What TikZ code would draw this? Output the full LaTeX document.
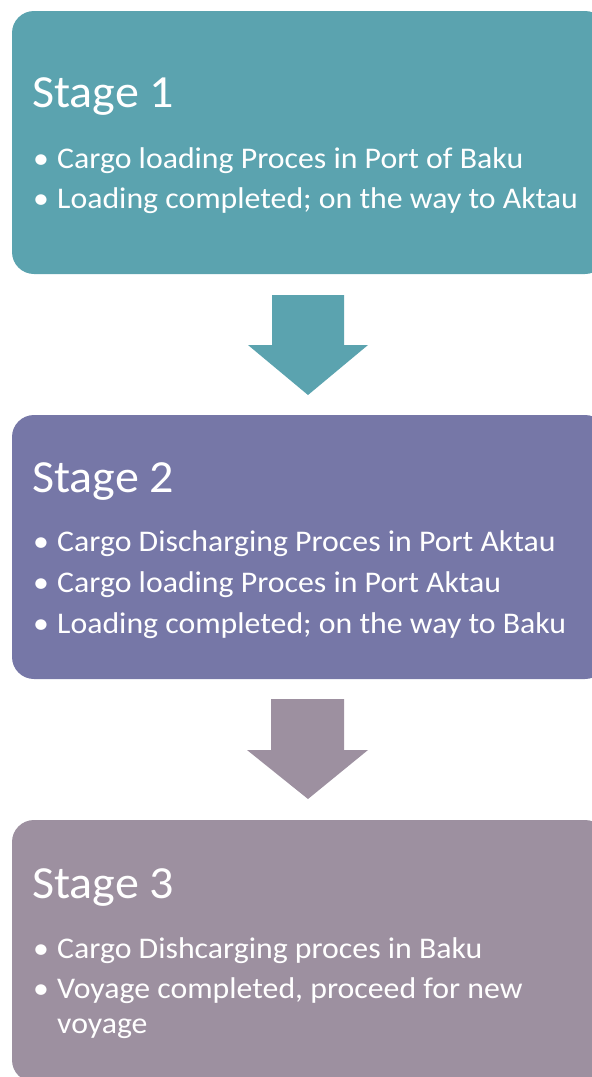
\documentclass[tikz,border=0pt]{standalone}
\usepackage{fontspec}
\setmainfont{Carlito}
\newfontfamily\itemfont[FakeStretch=1.06]{Carlito}
\newfontfamily\titlefont[FakeStretch=1.045]{Carlito}
\definecolor{cteal}{RGB}{91,163,175}
\definecolor{cpurple}{RGB}{118,119,167}
\definecolor{cmauve}{RGB}{157,144,160}
\begin{document}
\begin{tikzpicture}[x=1pt,y=-1pt,
  box/.style={rounded corners=22pt},
  title/.style={anchor=base west,inner sep=0pt,text=white,font=\titlefont\fontsize{46}{55}\selectfont},
  item/.style={anchor=base west,inner sep=0pt,text=white,font=\itemfont\fontsize{30}{36}\selectfont},
  bul/.style={anchor=base west,inner sep=0pt,text=white,font=\itemfont\fontsize{30}{36}\selectfont}]
\useasboundingbox (0,0) rectangle (592,1077);
% boxes
\fill[cteal,box] (12,11) rectangle (607,274);
\fill[cpurple,box] (12,415) rectangle (607,679);
\fill[cmauve,box] (12,820) rectangle (607,1082);
% arrows
\fill[cteal] (272,295) -- (344,295) -- (344,345) -- (368,345) -- (308,395) -- (248,345) -- (272,345) -- cycle;
\fill[cmauve] (271,699) -- (344,699) -- (344,750) -- (368,750) -- (308,799) -- (247,750) -- (271,750) -- cycle;
% stage 1
\node[title] (s1) at (32,107) {Stage 1};
\node[bul] (s1b1) at (33,168) {•};
\node[item] (s1t1) at (57,168) {Cargo loading Proces in Port of Baku};
\node[bul] (s1b2) at (33,208) {•};
\node[item] (s1t2) at (57,208) {Loading completed; on the way to Aktau};
% stage 2
\node[title] (s2) at (32,492) {Stage 2};
\node[bul] (s2b1) at (33,551) {•};
\node[item] (s2t1) at (57,551) {Cargo Discharging Proces in Port Aktau};
\node[bul] (s2b2) at (33,592) {•};
\node[item] (s2t2) at (57,592) {Cargo loading Proces in Port Aktau};
\node[bul] (s2b3) at (33,633) {•};
\node[item] (s2t3) at (57,633) {Loading completed; on the way to Baku};
% stage 3
\node[title] (s3) at (32,898) {Stage 3};
\node[bul] (s3b1) at (33,958) {•};
\node[item] (s3t1) at (57,958) {Cargo Dishcarging proces in Baku};
\node[bul] (s3b2) at (33,998) {•};
\node[item] (s3t2) at (57,998) {Voyage completed, proceed for new};
\node[item] (s3t3) at (57,1033) {voyage};
\end{tikzpicture}
\end{document}
